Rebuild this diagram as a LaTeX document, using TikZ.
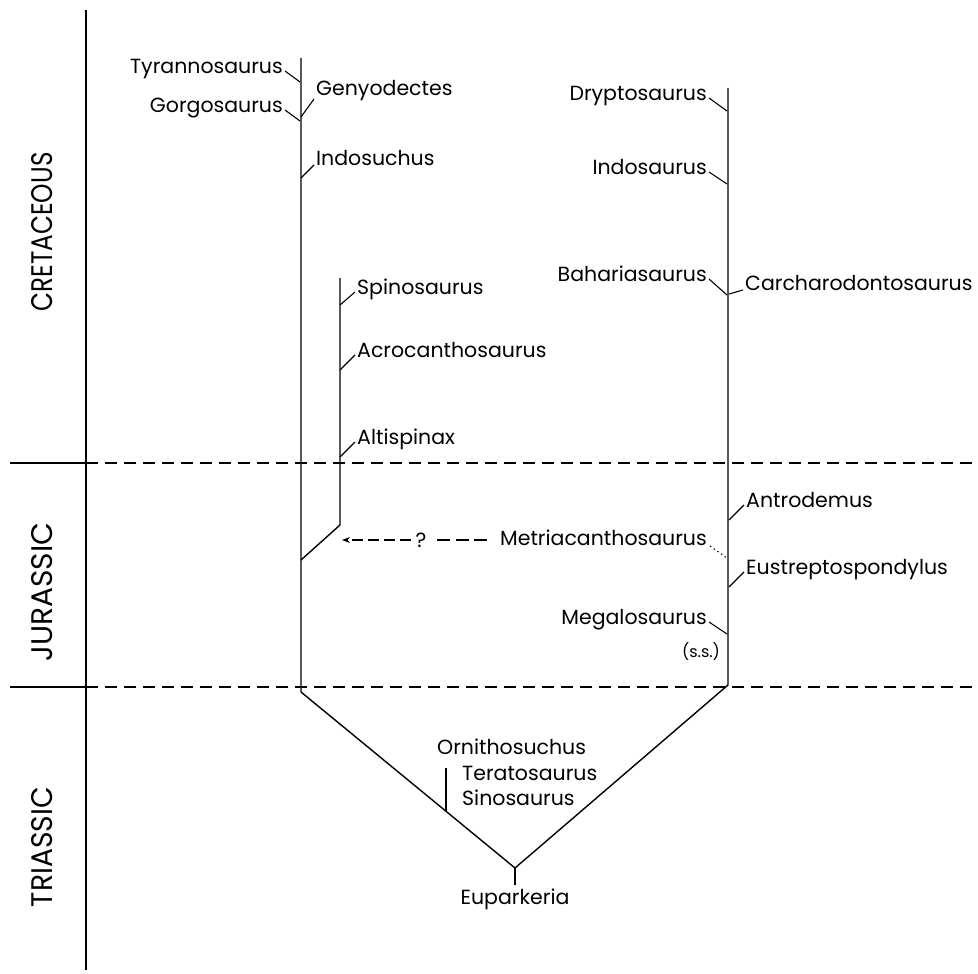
\documentclass[tikz,border=0pt]{standalone}
\usepackage{fontspec}
\setmainfont{Poppins}
\usetikzlibrary{arrows.meta}
\begin{document}
\begin{tikzpicture}[x=1pt,y=-1pt,
  trunk/.style={line width=1.4pt, line join=miter},
  tick/.style={line width=1.1pt},
  lab/.style={inner sep=0pt, font=\fontsize{20.5}{24}\selectfont},
  era/.style={inner sep=0pt, rotate=90},
  sepline/.style={line width=1.1pt, dash pattern=on 12pt off 7pt},
  qdash/.style={line width=1.1pt, dash pattern=on 11pt off 5pt},
  qdashR/.style={line width=1.1pt, dash pattern=on 13pt off 5.5pt},
  dotline/.style={line width=1pt, dash pattern=on 1.5pt off 3pt}]
\useasboundingbox (0,0) rectangle (978,974);
% time axis
\coordinate (axT) at (86,10);
\coordinate (axB) at (86,970);
\draw[line width=1.2pt] (axT) -- (axB);
\coordinate (s1a) at (10,463); \coordinate (s1b) at (86,463); \coordinate (s1c) at (978,463);
\coordinate (s2a) at (10,687); \coordinate (s2b) at (86,687); \coordinate (s2c) at (978,687);
\draw[line width=1.1pt] (s1a) -- (s1b);
\draw[sepline] (s1b) -- (s1c);
\draw[line width=1.1pt] (s2a) -- (s2b);
\draw[sepline] (s2b) -- (s2c);
\node[era] (cre) at (42.5,232) {\resizebox{159pt}{21pt}{CRETACEOUS}};
\node[era] (jur) at (42.5,592) {\resizebox{139pt}{21pt}{JURASSIC}};
\node[era] (tri) at (42.5,847) {\resizebox{120pt}{21pt}{TRIASSIC}};
% trunks
\coordinate (LT) at (301,58);
\coordinate (LB) at (301,692);
\coordinate (RT) at (728,88);
\coordinate (RB) at (728,685);
\coordinate (J) at (515,868);
\coordinate (S) at (515,885);
\draw[trunk] (LT) -- (LB) -- (J) -- (RB) -- (RT);
\draw[trunk] (J) -- (S);
\node[lab, anchor=north] (eup) at (515,889) {Euparkeria};
% spinosaur branch
\coordinate (SPT) at (340,278);
\coordinate (SPB) at (340,525);
\coordinate (SPJ) at (301,560);
\draw[trunk] (SPT) -- (SPB) -- (SPJ);
% Triassic side branch
\coordinate (OT) at (446,768);
\coordinate (OB) at (446,811);
\draw[tick] (OT) -- (OB);
\node[lab, anchor=mid west] (orn) at (437,752) {Ornithosuchus};
\node[lab, anchor=mid west] (ter) at (462,778) {Teratosaurus};
\node[lab, anchor=mid west] (sin) at (462,803) {Sinosaurus};
% left trunk labels
\node[lab, anchor=mid east] (tyr) at (283,71) {Tyrannosaurus};
\coordinate (tyrT) at (300,82);
\draw[tick] ([xshift=2pt]tyr.mid east) -- (tyrT);
\node[lab, anchor=mid east] (gor) at (283,110) {Gorgosaurus};
\coordinate (gorT) at (300,121);
\draw[tick] ([xshift=2pt]gor.mid east) -- (gorT);
\node[lab, anchor=mid west] (gen) at (316,93) {Genyodectes};
\coordinate (genT) at (301,117);
\draw[tick] (genT) -- ([xshift=-2pt,yshift=-6pt]gen.mid west);
\node[lab, anchor=mid west] (ins) at (316,163) {Indosuchus};
\coordinate (insT) at (301,178);
\draw[tick] (insT) -- ([xshift=-2pt,yshift=-2pt]ins.mid west);
% spinosaur labels
\node[lab, anchor=mid west] (spi) at (357,292) {Spinosaurus};
\coordinate (spiT) at (340,305);
\draw[tick] (spiT) -- ([xshift=-2pt]spi.mid west);
\node[lab, anchor=mid west] (acr) at (357,355) {Acrocanthosaurus};
\coordinate (acrT) at (340,370);
\draw[tick] (acrT) -- ([xshift=-2pt]acr.mid west);
\node[lab, anchor=mid west] (alt) at (357,442) {Altispinax};
\coordinate (altT) at (340,457);
\draw[tick] (altT) -- ([xshift=-2pt]alt.mid west);
% right trunk labels
\node[lab, anchor=mid east] (dry) at (707,98) {Dryptosaurus};
\coordinate (dryT) at (727,111);
\draw[tick] ([xshift=2pt]dry.mid east) -- (dryT);
\node[lab, anchor=mid east] (ids) at (707,172) {Indosaurus};
\coordinate (idsT) at (727,184);
\draw[tick] ([xshift=2pt]ids.mid east) -- (idsT);
\node[lab, anchor=mid east] (bah) at (707,279) {Bahariasaurus};
\coordinate (bahT) at (727,295);
\draw[tick] ([xshift=2pt]bah.mid east) -- (bahT);
\node[lab, anchor=mid west] (car) at (745,288) {Carcharodontosaurus};
\coordinate (carT) at (729,294);
\draw[tick] (carT) -- ([xshift=-2pt,yshift=-2pt]car.mid west);
\node[lab, anchor=mid west] (ant) at (746,505) {Antrodemus};
\coordinate (antT) at (729,520);
\draw[tick] (antT) -- ([xshift=-2pt]ant.mid west);
\node[lab, anchor=mid east] (met) at (707,543) {Metriacanthosaurus};
\coordinate (metT) at (727,558);
\draw[dotline] ([xshift=3pt,yshift=-3pt]met.mid east) -- (metT);
\node[lab, anchor=mid west] (eus) at (746,572) {Eustreptospondylus};
\coordinate (eusT) at (729,587);
\draw[tick] (eusT) -- ([xshift=-2pt]eus.mid west);
\node[lab, anchor=mid east] (meg) at (707,622) {Megalosaurus};
\coordinate (megT) at (727,634);
\draw[tick] ([xshift=2pt]meg.mid east) -- (megT);
\node[inner sep=0pt, font=\fontsize{16}{18}\selectfont] (ss) at (701,652) {(s.s.)};
% dashed arrow
\node[lab] (q) at (421,540) {?};
\coordinate (arr) at (342,540);
\coordinate (dR) at (487,540);
\coordinate (dRq) at (437,540);
\coordinate (dL) at (411,540);
\draw[qdashR] (dR) -- (dRq);
\draw[qdash, -{Stealth[length=8pt,width=6pt]}] (dL) -- (arr);
\end{tikzpicture}
\end{document}
